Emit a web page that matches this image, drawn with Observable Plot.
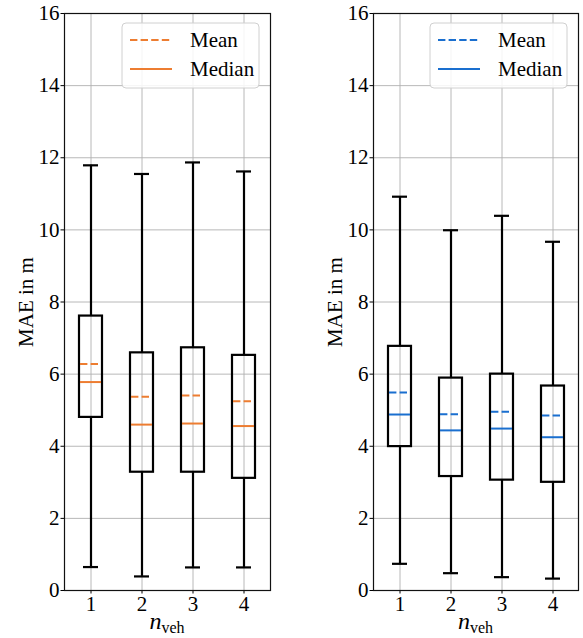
<!DOCTYPE html>
<html>
<head>
<meta charset="utf-8">
<script src="https://cdn.jsdelivr.net/npm/d3@7"></script>
<script src="https://cdn.jsdelivr.net/npm/@observablehq/plot@0.6"></script>
<style>
  html, body { margin: 0; padding: 0; background: white; }
  #wrap { display: flex; width: 583px; height: 638px; }
  svg { display: block; }
</style>
</head>
<body>
<div id="wrap"></div>
<script>
const categories = [1, 2, 3, 4];
const yTicks = [0, 2, 4, 6, 8, 10, 12, 14, 16];

// Left panel (orange)
const leftLow    = [0.65, 0.39, 0.64, 0.64];
const leftQ1     = [4.80, 3.28, 3.28, 3.11];
const leftMedian = [5.78, 4.60, 4.63, 4.56];
const leftMean   = [6.28, 5.37, 5.41, 5.25];
const leftQ3     = [7.61, 6.59, 6.73, 6.52];
const leftHigh   = [11.79, 11.55, 11.87, 11.62];

// Right panel (blue)
const rightLow    = [0.74, 0.48, 0.37, 0.33];
const rightQ1     = [3.99, 3.16, 3.06, 3.00];
const rightMedian = [4.88, 4.44, 4.49, 4.25];
const rightMean   = [5.49, 4.89, 4.96, 4.85];
const rightQ3     = [6.77, 5.89, 6.00, 5.67];
const rightHigh   = [10.92, 9.99, 10.39, 9.67];

const legendLabels = ["Mean", "Median"];
const yLabel = "MAE in m";

function table(lo, q1, med, mean, q3, hi) {
  return categories.map((c, i) => ({cat: c, lo: lo[i], q1: q1[i], median: med[i], mean: mean[i], q3: q3[i], hi: hi[i]}));
}

const FONT = "Liberation Serif";

function panel(data, color, width, marginLeft, marginRight) {
  const height = 638, marginTop = 13, marginBottom = 48;
  const lw = 2.2;
  const svg = Plot.plot({
    width, height, marginTop, marginBottom, marginLeft, marginRight,
    style: {fontFamily: FONT, fontSize: "21px", color: "black", background: "white", overflow: "visible"},
    x: {type: "band", domain: categories, paddingInner: 0.553, paddingOuter: 0.2765},
    y: {domain: [0, 16]},
    marks: [
      Plot.gridX({stroke: "#b0b0b0", strokeOpacity: 1, strokeWidth: 0.9}),
      Plot.gridY({ticks: yTicks, stroke: "#b0b0b0", strokeOpacity: 1, strokeWidth: 0.9}),
      Plot.axisY({ticks: yTicks, label: yLabel, labelAnchor: "center", labelArrow: "none", labelOffset: 46,
                  tickSize: 3.5, tickPadding: 1.5, fontSize: 21, stroke: "black"}),
      Plot.axisX({label: null, tickSize: 3.5, tickPadding: 2, fontSize: 21, stroke: "black"}),
      Plot.ruleX(data, {x: "cat", y1: "q3", y2: "hi", stroke: "black", strokeWidth: lw}),
      Plot.ruleX(data, {x: "cat", y1: "lo", y2: "q1", stroke: "black", strokeWidth: lw}),
      Plot.tickY(data, {x: "cat", y: "hi", stroke: "black", strokeWidth: lw, insetLeft: 4, insetRight: 4}),
      Plot.tickY(data, {x: "cat", y: "lo", stroke: "black", strokeWidth: lw, insetLeft: 4, insetRight: 4}),
      Plot.barY(data, {x: "cat", y1: "q1", y2: "q3", fill: "none", stroke: "black", strokeWidth: lw}),
      Plot.tickY(data, {x: "cat", y: "median", stroke: color, strokeWidth: 2, insetLeft: 1, insetRight: 1}),
      Plot.tickY(data, {x: "cat", y: "mean", stroke: color, strokeWidth: 2, strokeDasharray: "7.4,3.2", insetLeft: 1, insetRight: 1}),
      Plot.frame({stroke: "#111", strokeWidth: 1.2})
    ]
  });

  const s = d3.select(svg);
  s.selectAll("text").attr("font-family", FONT);
  // x label: n_veh
  const cx = marginLeft + (width - marginLeft - marginRight) / 2;
  const t = s.append("text")
    .attr("x", cx).attr("y", 629)
    .attr("text-anchor", "middle")
    .attr("font-family", FONT)
    .attr("font-size", 24)
    .attr("fill", "black");
  t.append("tspan").attr("font-style", "italic").text("n");
  t.append("tspan").attr("font-size", 16).attr("dy", 4).text("veh");

  // legend
  const right = width - marginRight;
  const bx = right - 148, by = 23, bw = 137, bh = 65;
  const g = s.append("g");
  g.append("rect").attr("x", bx).attr("y", by).attr("width", bw).attr("height", bh)
    .attr("rx", 4).attr("fill", "white").attr("fill-opacity", 0.85)
    .attr("stroke", "#d0d0d0").attr("stroke-width", 1);
  const rows = [{label: legendLabels[0], dash: "7.4,3.2", y: 40}, {label: legendLabels[1], dash: null, y: 69}];
  rows.forEach(r => {
    g.append("line").attr("x1", bx + 8).attr("x2", bx + 50).attr("y1", r.y).attr("y2", r.y)
      .attr("stroke", color).attr("stroke-width", 2)
      .attr("stroke-dasharray", r.dash);
    g.append("text").attr("x", bx + 68).attr("y", r.y + 7)
      .attr("text-anchor", "start")
      .attr("font-family", FONT).attr("font-size", 21).attr("fill", "black").text(r.label);
  });
  return svg;
}

const wrap = document.getElementById("wrap");
wrap.appendChild(panel(table(leftLow, leftQ1, leftMedian, leftMean, leftQ3, leftHigh), "#ed7d31", 291, 64, 21));
wrap.appendChild(panel(table(rightLow, rightQ1, rightMedian, rightMean, rightQ3, rightHigh), "#1a6fcf", 292, 82, 5));
</script>
</body>
</html>
